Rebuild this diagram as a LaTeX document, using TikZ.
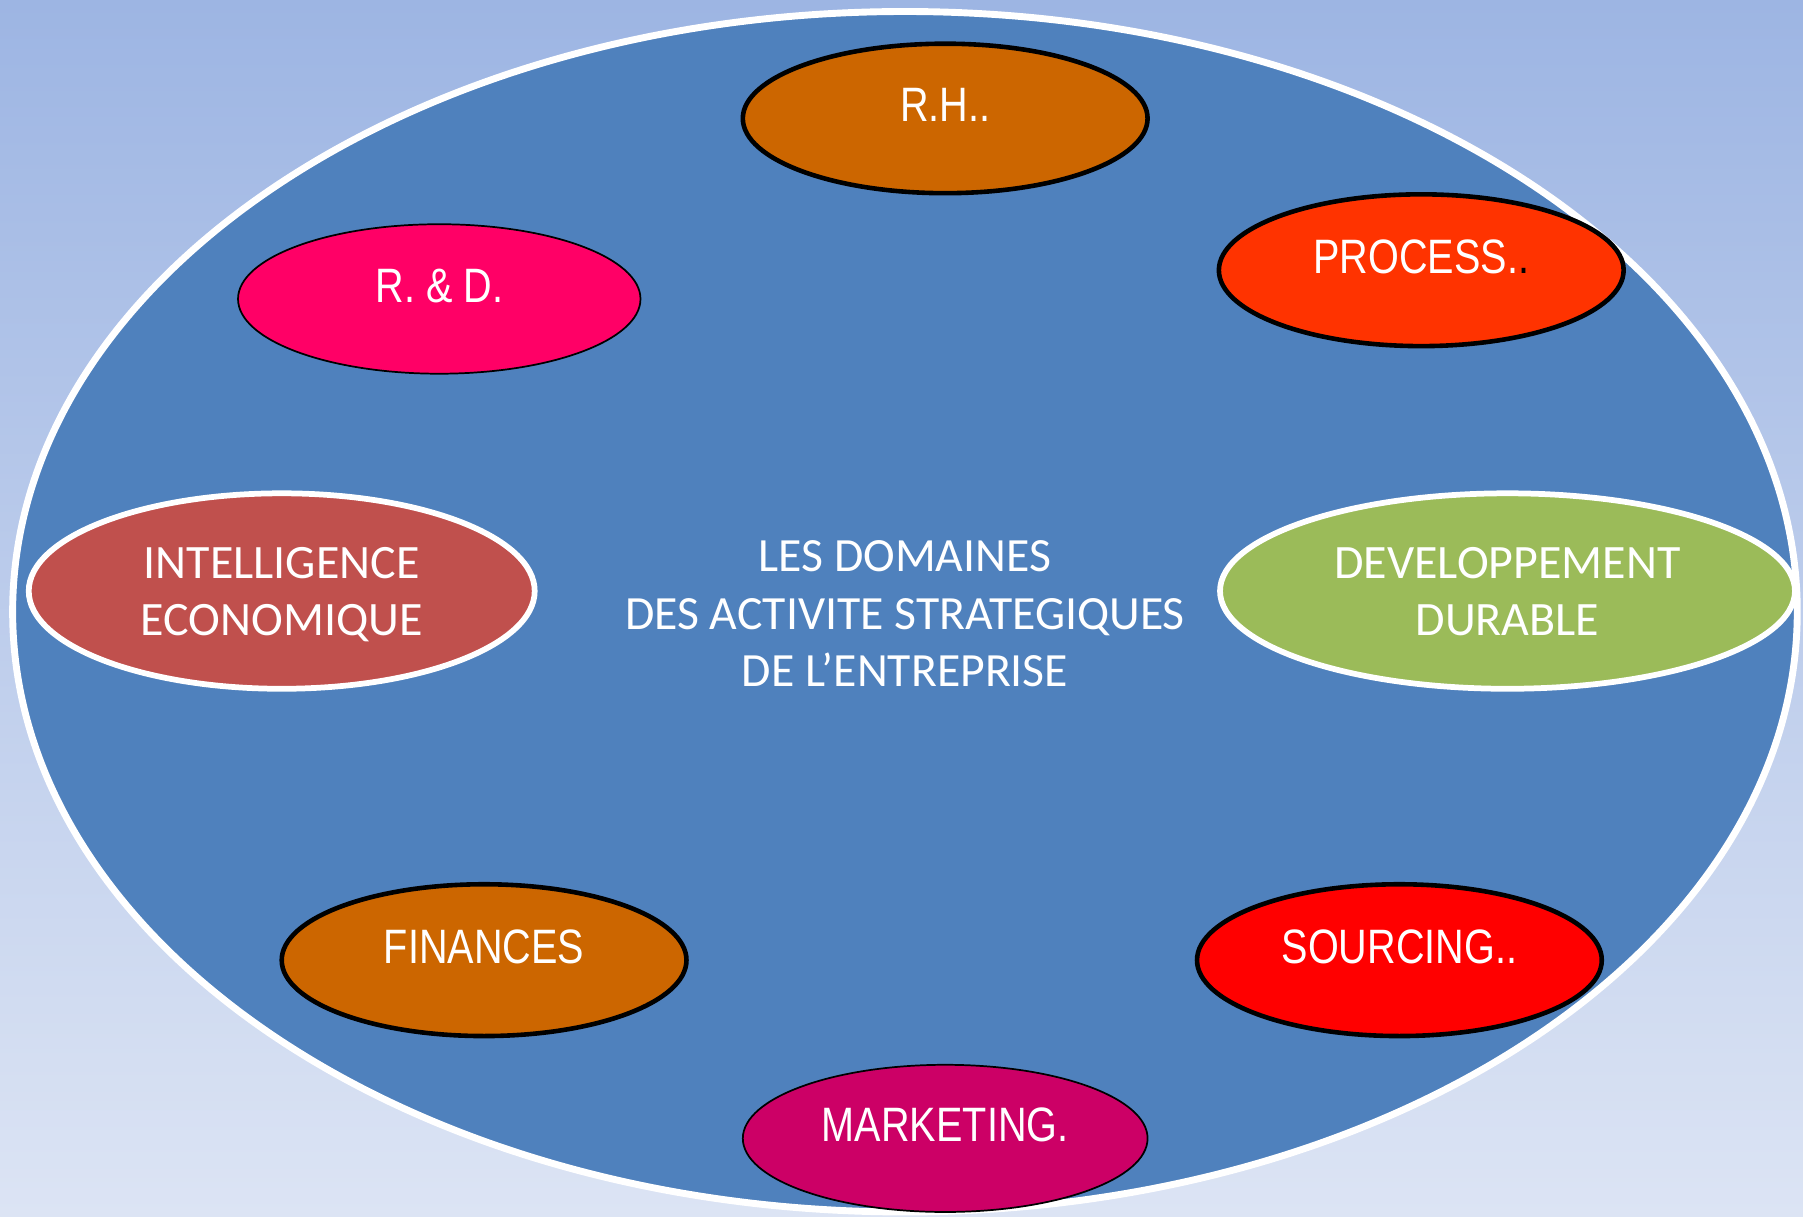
\documentclass[tikz,border=0pt]{standalone}
\usepackage{fontspec}
\setmainfont{Carlito}
\newfontfamily\narrowfont[FakeStretch=0.82]{Liberation Sans}
\usepackage{tikz}
\usetikzlibrary{shapes.geometric, backgrounds}
\usepackage{xcolor}

\definecolor{skytop}{HTML}{9DB5E3}
\definecolor{skybottom}{HTML}{DCE4F4}
\definecolor{diskblue}{HTML}{4F81BD}
\definecolor{rhorange}{HTML}{CC6600}
\definecolor{procred}{HTML}{FF3300}
\definecolor{rdpink}{HTML}{FF0066}
\definecolor{iered}{HTML}{C0504D}
\definecolor{ddgreen}{HTML}{9BBB59}
\definecolor{srcred}{HTML}{FF0000}
\definecolor{mktpink}{HTML}{CC0066}

\begin{document}
\begin{tikzpicture}[
    x=1pt, y=-1pt,
    domainbox/.style={ellipse, inner sep=0pt, text=white, align=center},
    % labels of the single-line domains sit a bit above the middle
    boldrim/.style={domainbox, draw=black, line width=4pt, text height=30pt, text depth=24pt,
        font=\narrowfont\fontsize{42}{50}\selectfont},
    thinrim/.style={domainbox, draw=black, line width=1.5pt, text height=30pt, text depth=24pt,
        font=\narrowfont\fontsize{42}{50}\selectfont},
    whiterim/.style={domainbox, draw=white, line width=5pt, text height=78pt, text depth=0pt,
        font=\fontsize{41.7}{50}\selectfont}
]
    % Background with its gradient
    \shade[top color=skytop, bottom color=skybottom] (0,0) rectangle (1568,1058);
    \useasboundingbox (0,0) rectangle (1568,1058);

    % The big disc holding all the domains
    \node[ellipse, draw=white, line width=6pt, fill=diskblue,
        minimum width=1552pt, minimum height=1044pt, inner sep=0pt] (disc) at (787,532) {};

    % Title in the middle
    \node[text=white, align=center, font=\fontsize{41.5}{50}\selectfont] (title) at (787,534)
        {LES DOMAINES\\DES ACTIVITE STRATEGIQUES\\DE L’ENTREPRISE};

    % Domains around the disc
    \node[boldrim, fill=rhorange, minimum width=352pt, minimum height=130pt] (rh) at (822,103) {R.H..};
    \node[boldrim, fill=procred, minimum width=352pt, minimum height=132pt] (process) at (1236,235)
        {PROCESS.\textcolor{black}{.}};
    \node[thinrim, fill=rdpink, minimum width=350pt, minimum height=130pt] (rd) at (382,260) {R. \& D.};
    \node[whiterim, fill=iered, minimum width=440pt, minimum height=170pt] (ie) at (245,514)
        {INTELLIGENCE\\ECONOMIQUE};
    \node[whiterim, fill=ddgreen, minimum width=500pt, minimum height=170pt] (dd) at (1311,514)
        {DEVELOPPEMENT\\DURABLE};
    \node[boldrim, fill=rhorange, minimum width=352pt, minimum height=132pt] (fin) at (421,835) {FINANCES};
    \node[boldrim, fill=srcred, minimum width=352pt, minimum height=132pt] (sourcing) at (1217,835) {SOURCING..};
    \node[thinrim, fill=mktpink, minimum width=352pt, minimum height=128pt] (mkt) at (822,990) {MARKETING.};
\end{tikzpicture}
\end{document}
